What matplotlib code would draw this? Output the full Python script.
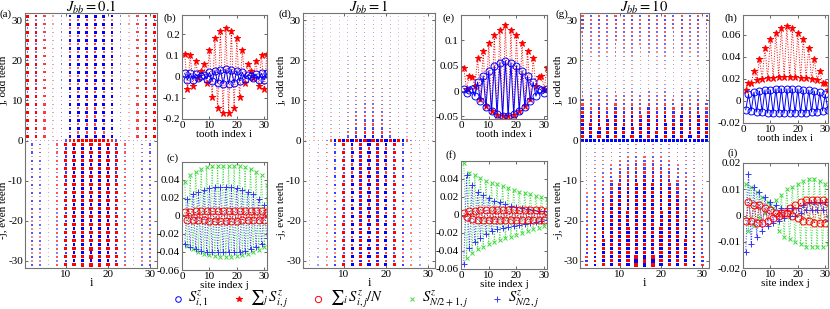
import numpy as np
import matplotlib
matplotlib.use("Agg")
import matplotlib.pyplot as plt
from matplotlib.lines import Line2D

plt.rcParams['font.family'] = ['Liberation Serif', 'DejaVu Serif']
plt.rcParams['mathtext.fontset'] = 'stix'
plt.rcParams['font.size'] = 8

W, H = 830, 309

# ---------------- data ----------------
sites = np.arange(1, 32)            # backbone / tooth positions i, site index j
odd_i = np.arange(1, 32, 2)
even_i = np.arange(2, 31, 2)
titles = ['$J_{bb}=0.1$', '$J_{bb}=1$', '$J_{bb}=10$']

# heat-map (spin pattern) amplitudes, per panel
bb_a = [0.1, -0.1, 0.1, -0.1, 0.1, -0.1, 0.1, -0.15, 0.2, -0.3, 0.4, 0.6, 0.5, 0.8, 0.6, 0.9,
        0.6, 0.8, 0.5, 0.6, 0.4, -0.3, 0.2, -0.15, 0.1, -0.1, 0.1, -0.1, 0.1, -0.1, 0.1]
odd_amp_a = [0.55, 0.5, 0.35, 0.12, -0.2, -0.5, -0.75, -0.85, -0.85, -0.75, -0.5, -0.2, 0.12, 0.35, 0.5, 0.55]
odd_prof_a = [1, -0.4] * 15 + [1]
even_amp_a = [-0.3, -0.25, -0.08, 0.3, 0.6, 0.85, 0.95, 1.0, 0.95, 0.85, 0.6, 0.3, -0.08, -0.25, -0.3]
even_prof_a = [1, -0.6] * 15 + [1]

bb_d = [0.05, -0.05, 0.08, -0.1, 0.15, -0.2, 0.3, -0.5, 0.6, -0.7, 0.8, -0.9, 0.95, -1.0, 1.0, -1.0,
        1.0, -1.0, 0.95, -0.9, 0.8, -0.7, 0.6, -0.5, 0.3, -0.2, 0.15, -0.1, 0.08, -0.05, 0.05]
odd_amp_d = [0.15, 0.12, 0.1, 0.12, 0.2, -0.3, -0.4, -0.45, -0.45, -0.4, -0.3, 0.2, 0.12, 0.1, 0.12, 0.15]
odd_prof_d = [1.0, -0.9, 0.8, -0.75, 0.7, -0.65, 0.6, -0.55, 0.5, -0.48, 0.45, -0.42, 0.4, -0.38, 0.36, -0.34,
              0.32, -0.3, 0.3, -0.28, 0.28, -0.26, 0.26, -0.25, 0.25, -0.24, 0.24, -0.23, 0.23, -0.22, 0.22]
even_amp_d = [0.1, -0.12, 0.2, -0.35, 0.55, -0.7, 0.85, -0.9, 0.85, -0.7, 0.55, -0.35, 0.2, -0.12, 0.1]
even_prof_d = [0.9, -0.5, 1.0, -0.5, 1.0, -0.5, 1.0, -0.5, 1.0, -0.5, 1.0, -0.5, 1.0, -0.5, 1.0, -0.5,
               1.0, -0.5, 1.0, -0.5, 1.0, -0.5, 1.0, -0.5, 1.0, -0.5, 1.0, -0.5, 1.0, -0.5, 1.0]

bb_g = [-0.55] * 31
odd_amp_g = [0.7, -0.6, 0.7, -0.6, 0.7, -0.6, 0.7, -0.6, 0.7, -0.6, 0.7, -0.6, 0.7, -0.6, 0.7, -0.6]
odd_prof_g = [1.0, -0.9, 0.8, -0.7, 0.6, -0.55, 0.5, -0.45, 0.4, -0.35, 0.3, -0.25, 0.2, -0.15, 0.12, -0.1,
              0.1, -0.12, 0.15, -0.18, 0.2, -0.22, 0.24, -0.26, 0.28, -0.3, 0.32, -0.34, 0.35, -0.36, 0.37]
even_amp_g = [0.3, -0.4, 0.5, -0.6, 0.7, -0.75, 0.8, -0.8, 0.8, -0.75, 0.7, -0.6, 0.5, -0.4, 0.3]
even_prof_g = [0.2, -0.22, 0.25, -0.28, 0.3, -0.33, 0.36, -0.4, 0.43, -0.46, 0.5, -0.53, 0.56, -0.6, 0.63, -0.66,
               0.7, -0.72, 0.75, -0.78, 0.8, -0.83, 0.86, -0.88, 0.9, -0.92, 0.94, -0.96, 0.97, -0.98, 1.0]

# (b),(e),(h): S^z_{i,1} and sum_j S^z_{i,j} versus tooth index i
sumS_b = [0.107, -0.06, 0.10, -0.045, 0.072, -0.005, 0.025, 0.06, -0.03, 0.123, -0.096, 0.18, -0.147, 0.216,
          -0.17, 0.229, -0.17, 0.216, -0.147, 0.18, -0.096, 0.123, -0.03, 0.06, 0.025, -0.005, 0.072, -0.045,
          0.10, -0.06, 0.107]
Si1_b = [0.015, -0.015, 0.015, -0.014, 0.012, -0.005, 0.004, 0.008, -0.01, 0.02, -0.022, 0.028, -0.03, 0.033,
         -0.034, 0.035, -0.034, 0.033, -0.03, 0.028, -0.022, 0.02, -0.01, 0.008, 0.004, -0.005, 0.012, -0.014,
         0.015, -0.015, 0.015]
sumS_e = [0.045, 0.005, 0.03, 0.027, 0.01, 0.065, -0.015, 0.08, -0.03, 0.095, -0.04, 0.11, -0.047, 0.12,
          -0.05, 0.13, -0.05, 0.12, -0.047, 0.11, -0.04, 0.095, -0.03, 0.08, -0.015, 0.065, 0.01, 0.027,
          0.03, 0.005, 0.045]
Si1_e = [0.005, -0.003, 0.002, 0.005, -0.01, 0.018, -0.02, 0.03, -0.032, 0.04, -0.04, 0.05, -0.046, 0.056,
         -0.05, 0.06, -0.05, 0.056, -0.046, 0.05, -0.04, 0.04, -0.032, 0.03, -0.02, 0.018, -0.01, 0.005,
         0.002, -0.003, 0.005]
sumS_h = [0.01, 0.016, 0.016, 0.027, 0.019, 0.038, 0.02, 0.048, 0.021, 0.056, 0.021, 0.062, 0.022, 0.066,
          0.022, 0.068, 0.022, 0.066, 0.022, 0.062, 0.021, 0.056, 0.021, 0.048, 0.02, 0.038, 0.019, 0.027,
          0.016, 0.016, 0.01]
Si1_h = [-0.008, 0.006, -0.009, 0.008, -0.010, 0.009, -0.010, 0.010, -0.011, 0.010, -0.011, 0.011, -0.011, 0.011,
         -0.011, 0.011, -0.011, 0.011, -0.011, 0.011, -0.011, 0.010, -0.011, 0.010, -0.010, 0.009, -0.010, 0.008,
         -0.009, 0.006, -0.008]

# (c),(f),(i): versus site index j
avg_c = [0.004, -0.005, 0.004, -0.005, 0.005, -0.005, 0.005, -0.005, 0.005, -0.006, 0.005, -0.006, 0.005, -0.006,
         0.005, -0.006, 0.005, -0.006, 0.005, -0.006, 0.005, -0.005, 0.005, -0.005, 0.005, -0.005, 0.005, -0.005,
         0.005, -0.005, 0.004]
mid1_c = [0.038, -0.033, 0.045, -0.037, 0.049, -0.04, 0.052, -0.042, 0.054, -0.043, 0.055, -0.044, 0.056, -0.045,
          0.056, -0.045, 0.056, -0.045, 0.056, -0.044, 0.055, -0.043, 0.054, -0.042, 0.052, -0.04, 0.049, -0.038,
          0.045, -0.035, 0.034]
mid_c = [-0.031, 0.019, -0.035, 0.024, -0.037, 0.027, -0.039, 0.029, -0.04, 0.031, -0.04, 0.032, -0.04, 0.032,
         -0.04, 0.032, -0.04, 0.032, -0.04, 0.031, -0.04, 0.029, -0.039, 0.027, -0.037, 0.024, -0.035, 0.019,
         -0.031, 0.012, -0.025]
avg_f = [0.002, -0.002, 0.004, -0.004, 0.005, -0.005, 0.006, -0.006, 0.006, -0.006, 0.006, -0.006, 0.006, -0.006,
         0.006, -0.006, 0.006, -0.006, 0.006, -0.006, 0.006, -0.006, 0.006, -0.006, 0.006, -0.006, 0.006, -0.006,
         0.006, -0.005, 0.005]
mid1_f = [0.058, -0.048, 0.047, -0.042, 0.044, -0.038, 0.041, -0.035, 0.038, -0.032, 0.036, -0.03, 0.034, -0.028,
          0.032, -0.026, 0.03, -0.024, 0.028, -0.022, 0.026, -0.02, 0.025, -0.018, 0.023, -0.016, 0.021, -0.014,
          0.02, -0.012, 0.018]
mid_f = [-0.054, 0.044, -0.037, 0.033, -0.03, 0.026, -0.025, 0.022, -0.021, 0.019, -0.018, 0.016, -0.016, 0.014,
         -0.014, 0.012, -0.013, 0.01, -0.012, 0.009, -0.011, 0.008, -0.01, 0.007, -0.009, 0.006, -0.008, 0.005,
         -0.007, 0.004, -0.006]
avg_i = [-0.002, 0.005, -0.002, 0.004, -0.003, 0.004, -0.003, 0.003, -0.002, 0.002, -0.001, 0.001, 0.0, 0.001,
         0.001, 0.001, 0.003, -0.0, 0.004, -0.001, 0.005, -0.002, 0.006, -0.002, 0.006, -0.003, 0.006, -0.003,
         0.006, -0.003, 0.005]
mid1_i = [0.012, -0.006, 0.011, -0.004, 0.009, -0.001, 0.007, 0.001, 0.005, 0.004, 0.003, 0.006, -0.006, 0.008,
          -0.008, 0.01, -0.009, 0.011, -0.01, 0.012, -0.011, 0.013, -0.012, 0.014, -0.012, 0.014, -0.012, 0.013,
          -0.012, 0.012, -0.011]
mid_i = [-0.014, 0.016, -0.011, 0.011, -0.008, 0.009, -0.006, 0.007, -0.004, 0.005, -0.003, 0.004, -0.002, 0.003,
         -0.001, 0.003, 0.0, 0.003, 0.0, 0.003, 0.001, 0.004, 0.002, 0.005, 0.002, 0.005, 0.002, 0.005,
         0.002, 0.005, -0.002]

legend_labels = ['$S^z_{i,1}$', '$∑_j\\, S^z_{i,j}$', '$∑_i\\, S^z_{i,j}/N$', '$S^z_{N/2+1,j}$', '$S^z_{N/2,j}$']

# ---------------- figure ----------------
fig = plt.figure(figsize=(W / 100, H / 100), dpi=100)
GREEN = (0.25, 0.85, 0.25)
BLUE2 = (0.2, 0.2, 1.0)


def ax_px(l, t, r, b):
    return fig.add_axes([l / W, 1 - b / H, (r - l) / W, (b - t) / H])


def ftxt(x, y, s, **kw):
    return fig.text(x / W, 1 - y / H, s, **kw)


def style(ax):
    for s in ax.spines.values():
        s.set_color('0.45')
        s.set_linewidth(0.8)
    ax.tick_params(direction='in', length=2.5, width=0.6, color='0.3', labelsize=8, pad=1.5,
                   top=True, right=True)


def heat(ax, bb, odd_amp, odd_prof, even_amp, even_prof):
    xs, ys, vs = [], [], []
    for i, v in zip(sites, bb):
        xs.append(i); ys.append(0); vs.append(v)
    for i, a in zip(odd_i, odd_amp):
        for j, p in zip(sites, odd_prof):
            xs.append(i); ys.append(j); vs.append(a * p)
    for i, a in zip(even_i, even_amp):
        for j, p in zip(sites, even_prof):
            xs.append(i); ys.append(-j); vs.append(a * p)
    xs, ys, vs = np.array(xs), np.array(ys), np.array(vs)
    m = np.abs(vs).max()
    r = np.abs(vs) / m
    cols = np.zeros((len(vs), 4))
    cols[vs >= 0, 0] = 1
    cols[vs < 0, 2] = 1
    cols[:, 3] = np.clip(0.2 + 1.6 * r, 0, 1)
    ax.scatter(xs, ys, s=0.4 + 6 * r, c=cols, marker='s', linewidths=0)
    ax.set_xlim(0.4, 31.6)
    ax.set_ylim(-31.8, 31.8)
    ax.set_xticks([10, 20, 30])
    ax.set_yticks([-30, -20, -10, 0, 10, 20, 30])
    ax.set_yticklabels(['-30', '-20', '-10', '0', '10', '20', '30'])
    ax.set_xlabel('i', labelpad=-1.5, fontsize=9)
    style(ax)


heat_pos = [(25, 13, 157, 268), (303, 13, 435, 268), (580, 13, 709, 268)]
heat_data = [(bb_a, odd_amp_a, odd_prof_a, even_amp_a, even_prof_a),
             (bb_d, odd_amp_d, odd_prof_d, even_amp_d, even_prof_d),
             (bb_g, odd_amp_g, odd_prof_g, even_amp_g, even_prof_g)]
heat_labels = ['(a)', '(d)', '(g)']
for k in range(3):
    l, t, r, b = heat_pos[k]
    ax = ax_px(l, t, r, b)
    heat(ax, *heat_data[k])
    ftxt((l + r) / 2, 7, titles[k], fontsize=10.5, ha='center', va='center')
    ftxt(l - 25, 14, heat_labels[k], fontsize=8, va='center')
    cx = l - 21.5
    ftxt(cx, 80, 'j, odd teeth', rotation=90, ha='center', va='center', fontsize=8)
    ftxt(cx, 210, '-j, even teeth', rotation=90, ha='center', va='center', fontsize=8)

# tooth panels
tooth_pos = [(182, 15, 267, 119), (461, 15, 547, 119), (743, 15, 828, 123)]
tooth_data = [(sumS_b, Si1_b, (-0.2, 0.29), [-0.2, -0.1, 0, 0.1, 0.2], ['-0.2', '-0.1', '0', '0.1', '0.2']),
              (sumS_e, Si1_e, (-0.055, 0.15), [-0.05, 0, 0.05, 0.1], ['-0.05', '0', '0.05', '0.1']),
              (sumS_h, Si1_h, (-0.02, 0.078), [-0.02, 0, 0.02, 0.04, 0.06], ['-0.02', '0', '0.02', '0.04', '0.06'])]
tooth_labels = ['(b)', '(e)', '(h)']
for k in range(3):
    l, t, r, b = tooth_pos[k]
    ax = ax_px(l, t, r, b)
    s, s1, yl, yt, ytl = tooth_data[k]
    ax.plot(sites, s, 'r*:', ms=4.5, lw=0.7, mew=0.7)
    ax.plot(sites, s1, 'bo-', ms=5, lw=0.7, mfc='none', mew=0.7)
    ax.set_xlim(0, 31)
    ax.set_ylim(*yl)
    ax.set_yticks(yt)
    ax.set_yticklabels(ytl)
    ax.set_xticks([0, 10, 20, 30])
    ax.set_xlabel('tooth index i', labelpad=0)
    style(ax)
    ftxt(l - 19, t + 3, tooth_labels[k], fontsize=8, va='center')

# site panels
site_pos = [(182, 162, 267, 270), (461, 161, 547, 269), (743, 163, 828, 268)]
site_data = [(avg_c, mid1_c, mid_c, (-0.06, 0.06), [-0.06, -0.04, -0.02, 0, 0.02, 0.04],
              ['-0.06', '-0.04', '-0.02', '0', '0.02', '0.04']),
             (avg_f, mid1_f, mid_f, (-0.06, 0.06), [-0.06, -0.04, -0.02, 0, 0.02, 0.04],
              ['-0.06', '-0.04', '-0.02', '0', '0.02', '0.04']),
             (avg_i, mid1_i, mid_i, (-0.02, 0.02), [-0.02, -0.01, 0, 0.01, 0.02],
              ['-0.02', '-0.01', '0', '0.01', '0.02'])]
site_labels = ['(c)', '(f)', '(i)']
site_label_dy = [4, 6, 10]
for k in range(3):
    l, t, r, b = site_pos[k]
    ax = ax_px(l, t, r, b)
    a, m1, m, yl, yt, ytl = site_data[k]
    ax.plot(sites, m1, 'x:', color=GREEN, ms=3.5, lw=0.7, mew=0.7)
    ax.plot(sites, m, '+:', color=BLUE2, ms=5, lw=0.7, mew=0.7)
    ax.plot(sites, a, 'o:', color='r', ms=5, lw=0.7, mfc='none', mew=0.7)
    ax.set_xlim(0, 31)
    ax.set_ylim(*yl)
    ax.set_yticks(yt)
    ax.set_yticklabels(ytl)
    ax.set_xticks([0, 10, 20, 30])
    ax.set_xlabel('site index j', labelpad=0)
    style(ax)
    ftxt(l - 16, t - site_label_dy[k], site_labels[k], fontsize=8, va='center')

# legend (placed manually along the bottom)
marker_specs = [dict(marker='o', color='b', mfc='none', ms=4, mew=0.7),
                dict(marker='*', color='r', ms=4, mew=0.7),
                dict(marker='o', color='r', mfc='none', ms=4.5, mew=0.7),
                dict(marker='x', color=GREEN, ms=3.5, mew=0.7),
                dict(marker='+', color=BLUE2, ms=4.5, mew=0.7)]
marker_x = [178, 239, 318, 412, 497]
text_x = [188, 250, 330, 422, 508]
ly = 299
for mx, tx, spec, lab in zip(marker_x, text_x, marker_specs, legend_labels):
    fig.add_artist(Line2D([mx / W], [1 - ly / H], ls='none', transform=fig.transFigure, **spec))
    ftxt(tx, ly, lab, fontsize=10.5, va='center', ha='left')

fig.savefig('out.png', dpi=100)
